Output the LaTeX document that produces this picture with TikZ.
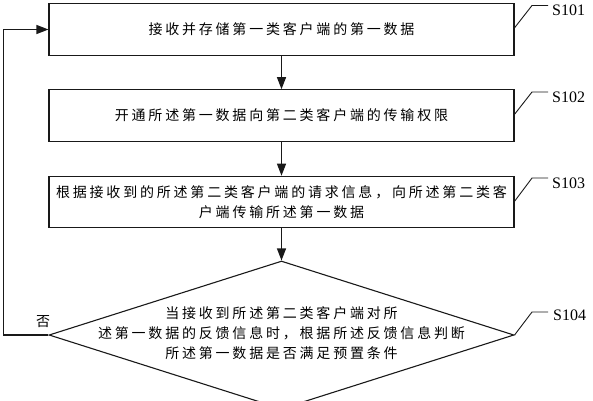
\documentclass[tikz,border=0pt]{standalone}
\usepackage{fontspec}
\setmainfont{Liberation Serif}
\newfontfamily\cjk{Noto Sans CJK SC}[LetterSpace=20]
\usetikzlibrary{arrows.meta,shapes.geometric}
\begin{document}
\begin{tikzpicture}[x=1pt,y=-1pt,
  ln/.style={line width=1.1pt, draw=black!90},
  box/.style={ln, draw, rectangle, minimum width=465pt, minimum height=51.5pt, inner sep=0pt,
    font=\cjk\fontsize{14}{20}\selectfont, align=center},
  dtext/.style={font=\cjk\fontsize{14}{20}\selectfont, align=center, inner sep=0pt},
  arr/.style={ln, -{Triangle[length=12pt,width=9pt]}},
  lead/.style={line width=0.9pt, draw=black!90},
  slabel/.style={anchor=base west, font=\fontsize{16}{16}\selectfont, inner sep=0pt},
]
\useasboundingbox (0,0) rectangle (593,400);

\node[box] (b1) at (281.5,29.5) {接收并存储第一类客户端的第一数据};
\node[box] (b2) at (281.5,115.5) {开通所述第一数据向第二类客户端的传输权限};
\node[box] (b3) at (281.5,202) {根据接收到的所述第二类客户端的请求信息，向所述第二类客\\户端传输所述第一数据};
\node[ln, draw, diamond, minimum width=465pt, minimum height=148pt, inner sep=0pt] (d) at (281.5,335) {};
\node[dtext] (dt) at (281.5,333) {当接收到所述第二类客户端对所\\述第一数据的反馈信息时，根据所述反馈信息判断\\所述第一数据是否满足预置条件};

\draw[arr] (b1.south) -- (b2.north);
\draw[arr] (b2.south) -- (b3.north);
\draw[arr] (b3.south) -- (d.north);
\draw[arr] (d.west) -- ++(-45,0) |- (b1.west);
\node[font=\cjk\fontsize{14}{14}\selectfont, inner sep=0pt] (no) at (43,322) {否};

\coordinate (l1a) at (514,28.5); \coordinate (l1b) at (532,5.5); \coordinate (l1c) at (548,5.5);
\coordinate (l2a) at (514,115); \coordinate (l2b) at (532,92); \coordinate (l2c) at (548,92);
\coordinate (l3a) at (514,202); \coordinate (l3b) at (532,178); \coordinate (l3c) at (548,178);
\coordinate (l4b) at (532,312); \coordinate (l4c) at (548,312);
\draw[lead] (l1a) -- (l1b) -- (l1c);
\draw[lead] (l2a) -- (l2b) -- (l2c);
\draw[lead] (l3a) -- (l3b) -- (l3c);
\draw[lead] (d.east) -- (l4b) -- (l4c);
\node[slabel] (s1) at (552,15.5) {S101};
\node[slabel] (s2) at (552,102) {S102};
\node[slabel] (s3) at (552,188) {S103};
\node[slabel] (s4) at (553,320) {S104};
\end{tikzpicture}
\end{document}
